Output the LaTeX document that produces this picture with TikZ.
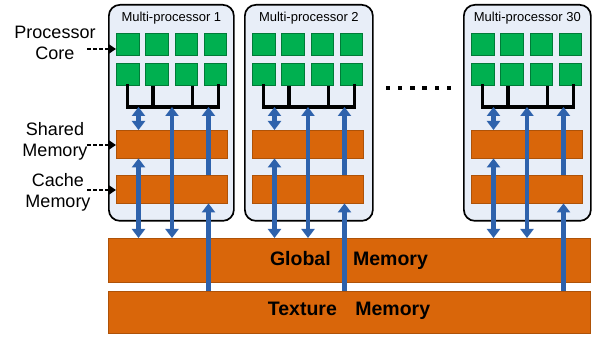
\documentclass[tikz,border=0pt]{standalone}
\usepackage{fontspec}
\setmainfont{Liberation Sans}
\usetikzlibrary{arrows.meta,calc}
\definecolor{mpfill}{HTML}{E8EEF8}
\definecolor{coregreen}{HTML}{00B050}
\definecolor{memorange}{HTML}{D9660A}
\definecolor{busblue}{HTML}{2E62AC}
\tikzset{
  mpbox/.style={draw=black, line width=1.7pt, fill=mpfill, rounded corners=11pt},
  corebox/.style={fill=coregreen, draw=coregreen!70!black, line width=0.3pt},
  membar/.style={fill=memorange, draw=memorange!80!black, line width=0.4pt},
  busline/.style={draw=black, line width=3.2pt},
  blue2/.style={draw=busblue, line width=4.4pt, {Triangle[width=13pt,length=9pt]}-{Triangle[width=13pt,length=9pt]}},
  blue1/.style={draw=busblue, line width=4.4pt, -{Triangle[width=13pt,length=9pt]}},
  lbl/.style={font=\fontsize{18}{21}\selectfont, align=center},
  ptr/.style={draw=black, line width=1.4pt, dash pattern=on 3.5pt off 2.5pt, -{Triangle[width=9pt,length=7pt]}},
  mptitle/.style={font=\fontsize{13}{15}\selectfont},
  bigtxt/.style={font=\bfseries\fontsize{19.5}{21}\selectfont},
  dotsq/.style={fill=black, minimum size=4.5pt, inner sep=0pt}
}
\begin{document}
\begin{tikzpicture}[x=1pt,y=-1pt]
\useasboundingbox (0,0) rectangle (597,339);
% global and texture memory
\node[membar, minimum width=482pt, minimum height=44pt, anchor=north west, inner sep=0pt] (gm) at (108,238) {};
\node[bigtxt] (gmt) at (349,260) {Global\hspace{1.15em}Memory};
\node[membar, minimum width=482pt, minimum height=42pt, anchor=north west, inner sep=0pt] (tm) at (108,291) {};
\node[bigtxt] (tmt) at (349,311) {Texture\hspace{0.95em}Memory};
% multiprocessors
\foreach \L/\W/\n/\t in {108/125/a/1, 244/128/b/2, 463/127/c/30}{
  \node[mpbox, minimum width=\W pt, minimum height=216pt, anchor=north west, inner sep=0pt] (mp\n) at (\L,4) {};
  \node[mptitle] (mpt\n) at ($(mp\n.north)+(0,14.5)$) {Multi-processor \t};
  \foreach \i in {0,1,2,3}{
    \node[corebox, minimum size=22.5pt, inner sep=0pt, anchor=north west] (c\n r1\i) at ({\L+8+29.3*\i},33) {};
    \node[corebox, minimum size=22.5pt, inner sep=0pt, anchor=north west] (c\n r2\i) at ({\L+8+29.3*\i},63) {};
  }
  \node[membar, minimum width=111pt, minimum height=28pt, inner sep=0pt, anchor=north west] (sh\n) at (\L+8,130) {};
  \node[membar, minimum width=111pt, minimum height=28pt, inner sep=0pt, anchor=north west] (ca\n) at (\L+8,175) {};
  \coordinate (bl\n) at (\L+19.5,107);
  \coordinate (br\n) at (\L+110.5,107);
  \coordinate (xa\n) at (\L+30.5,107);
  \coordinate (xb\n) at (\L+64,107);
  \coordinate (xc\n) at (\L+100.5,107);
  \draw[busline, line cap=rect] (\L+19.5,86) |- (br\n) -- (\L+110.5,86);
  \draw[busline] (\L+45,86) -- (\L+45,107);
  \draw[busline] (\L+84.5,86) -- (\L+84.5,107);
  % blue arrows
  \draw[blue2] (xa\n) -- (sh\n.north -| xa\n);
  \draw[blue2] (xb\n) -- (gm.north -| xb\n);
  \draw[blue1] (ca\n.north -| xc\n) -- (xc\n);
  \draw[blue2] (sh\n.south -| xa\n) -- (gm.north -| xa\n);
  \draw[blue1] (tm.north -| xc\n) -- (ca\n.south -| xc\n);
}
% dots
\foreach \k in {0,...,5}{
  \node[dotsq] (d\k) at ({388+12.2*\k},88) {};
}
% left labels
\node[lbl] (lpc) at (55,43) {Processor\\Core};
\node[lbl] (lsm) at (55,141) {Shared\\Memory};
\node[lbl] (lcm) at (58,192) {Cache\\Memory};
\coordinate (pcs) at (87,49);
\coordinate (sms) at (87,145);
\coordinate (cms) at (87,190);
\draw[ptr] (pcs) -- (pcs -| car10.west);
\draw[ptr] (sms) -- (sms -| sha.west);
\draw[ptr] (cms) -- (cms -| caa.west);
\end{tikzpicture}
\end{document}
